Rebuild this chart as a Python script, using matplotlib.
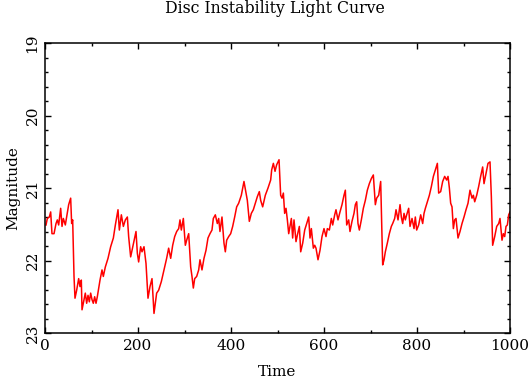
import matplotlib
matplotlib.use("Agg")
import matplotlib.pyplot as plt
from matplotlib.ticker import MultipleLocator

# Light curve (time, magnitude)
time = [
    2.2, 5, 9.3, 12.2, 15, 19.4, 23.7, 26.5, 29.4, 33.7, 36.6, 39.4, 43.7,
    46.6, 50.9, 55.2, 57.3, 59.5, 62.4, 64.5, 68.1, 72.4, 75.3, 78.1, 79.6,
    83.9, 86.7, 89.6, 92.5, 95.3, 98.2, 101.1, 103.9, 106.8, 109.7, 112.5,
    118.3, 122.6, 125.4, 129.7, 135.5, 141.2, 147, 151.3, 157, 159.9, 164.2,
    168.5, 172.8, 177.1, 179.9, 184.2, 187.1, 191.4, 195.7, 198.6, 201.4,
    205.7, 208.6, 212.9, 217.2, 221.5, 225.8, 230.1, 234.4, 240.1, 244.4,
    250.2, 255.9, 261.6, 265.9, 270.3, 274.6, 278.9, 283.2, 287.5, 290.3,
    293.2, 297.5, 301.8, 304.7, 309, 313.3, 316.1, 319, 321.9, 326.2, 330.5,
    333.3, 337.6, 341.9, 346.2, 350.5, 354.8, 359.1, 362, 366.3, 370.6,
    373.5, 376.3, 380.6, 384.9, 387.8, 390.7, 395, 399.3, 403.6, 407.9,
    412.2, 416.5, 422.2, 427.9, 432.3, 435.1, 439.4, 443.7, 448, 452.3,
    456.6, 460.9, 463.8, 468.1, 473.8, 479.6, 485.3,
    487.5, 491.1, 494.7, 498.2, 503.3, 506.8, 509.7, 512.6, 515.4, 518.3,
    521.2, 524.1, 526.9, 529.8, 532.6, 535.5, 539.8, 542.7, 547, 549.9,
    554.2, 558.5, 562.8, 567.1, 569.9, 572.8, 577.1, 580, 582.8, 587.1,
    591.4, 595.7, 600, 604.3, 607.2, 611.5, 615.8, 618.7, 623, 625.8, 630.1,
    634.4, 638.7, 643, 645.9, 648.8, 653.1, 655.9, 660.2, 664.5, 667.4,
    670.3, 673.1, 676, 680.3, 684.6, 688.9, 693.2, 697.5, 701.8, 706.1,
    707.6, 710.4, 713.3, 717.6, 721.9, 726.2, 729.1, 731.9, 736.2, 740.5,
    744.8, 747.7, 752, 754.9, 759.2, 763.5, 766.3, 769.2, 772.1, 774.9,
    777.8, 782.1, 785, 789.3, 793.6, 796.4, 799.3, 803.6, 807.9, 812.2,
    815.1, 818, 822.3, 826.6, 830.9, 835.2, 839.5, 843.8, 846.6, 850.9,
    855.2, 859.5, 863.8, 866.7, 869.6, 872.4, 875.3, 878.2, 881, 883.9,
    888.2, 892.5, 896.8, 901.1, 905.4, 909.7, 914, 918.3, 921.2, 924.1,
    928.4, 932.6, 936.9, 941.2, 944.1, 948.4, 952.7, 957, 959.9, 962.7,
    967.1, 971.4, 975.7, 978.5, 982.8, 985.7, 988.6, 991.4, 994.3, 997.2, 1000,
]
magnitude = [
    21.51, 21.42, 21.40, 21.33, 21.63, 21.63, 21.49, 21.44, 21.51, 21.28,
    21.53, 21.42, 21.51, 21.40, 21.23, 21.14, 21.49, 21.44, 22.22, 22.52,
    22.41, 22.25, 22.36, 22.27, 22.68, 22.54, 22.45, 22.59, 22.48, 22.57,
    22.45, 22.54, 22.59, 22.50, 22.59, 22.50, 22.27, 22.13, 22.22, 22.09,
    21.97, 21.81, 21.69, 21.51, 21.30, 21.58, 21.37, 21.53, 21.44, 21.40,
    21.67, 21.95, 21.86, 21.72, 21.60, 21.90, 22.02, 21.81, 21.88, 21.81,
    22.04, 22.52, 22.36, 22.25, 22.73, 22.45, 22.41, 22.29, 22.13, 21.97,
    21.83, 21.97, 21.79, 21.67, 21.60, 21.56, 21.44, 21.58, 21.42, 21.79,
    21.72, 21.63, 22.09, 22.22, 22.38, 22.25, 22.22, 22.13, 21.99, 22.13,
    21.97, 21.86, 21.69, 21.63, 21.58, 21.42, 21.37, 21.49, 21.42, 21.60,
    21.40, 21.76, 21.88, 21.72, 21.67, 21.63, 21.53, 21.40, 21.26, 21.21,
    21.10, 20.91, 21.07, 21.17, 21.46, 21.35, 21.30, 21.21, 21.12, 21.05,
    21.17, 21.26, 21.10, 21.00, 20.89,
    20.75, 20.66, 20.77, 20.68, 20.61, 21.10, 21.14, 21.07, 21.35, 21.28,
    21.44, 21.63, 21.53, 21.42, 21.69, 21.44, 21.74, 21.65, 21.53, 21.88,
    21.76, 21.58, 21.49, 21.40, 21.69, 21.56, 21.83, 21.79, 21.83, 21.99,
    21.86, 21.67, 21.56, 21.67, 21.56, 21.58, 21.42, 21.51, 21.37, 21.30,
    21.44, 21.33, 21.23, 21.10, 21.03, 21.51, 21.44, 21.60, 21.46, 21.35,
    21.23, 21.19, 21.49, 21.58, 21.44, 21.28, 21.17, 21.03, 20.94, 20.87,
    20.82, 20.96, 21.23, 21.14, 21.10, 20.91, 22.06, 21.99, 21.88, 21.76,
    21.63, 21.53, 21.49, 21.42, 21.30, 21.44, 21.23, 21.40, 21.49, 21.35,
    21.44, 21.37, 21.28, 21.53, 21.42, 21.56, 21.40, 21.58, 21.51, 21.37,
    21.49, 21.35, 21.28, 21.19, 21.10, 20.98, 20.84, 20.75, 20.66, 21.07,
    21.05, 20.91, 20.84, 20.89, 20.84, 21.00, 21.21, 21.26, 21.56, 21.44,
    21.42, 21.69, 21.60, 21.49, 21.40, 21.30, 21.21, 21.03, 21.14, 21.10,
    21.19, 21.10, 20.98, 20.84, 20.71, 20.94, 20.80, 20.66, 20.64, 21.12,
    21.79, 21.67, 21.53, 21.49, 21.42, 21.72, 21.63, 21.67, 21.53, 21.51,
    21.37, 21.33,
]

plt.rcParams["font.family"] = "DejaVu Serif"

fig = plt.figure(figsize=(5.29, 3.84), dpi=100)
ax = fig.add_axes([45 / 529, 1 - 333 / 384, 465 / 529, 290 / 384])

ax.plot(time, magnitude, color="#ff0000", linewidth=1.1)

# magnitudes: brighter at the top
ax.set_xlim(0, 1000)
ax.set_ylim(23, 19)

ax.xaxis.set_major_locator(MultipleLocator(200))
ax.xaxis.set_minor_locator(MultipleLocator(100))
ax.yaxis.set_major_locator(MultipleLocator(1))
ax.yaxis.set_minor_locator(MultipleLocator(0.2))

ax.tick_params(which="both", direction="in", top=True, right=True,
               width=1, labelsize=11)
ax.tick_params(which="major", length=4.5, pad=4)
ax.tick_params(which="minor", length=2.2)
for lab in ax.get_yticklabels():
    lab.set_rotation(90)
    lab.set_va("center")

for s in ax.spines.values():
    s.set_linewidth(1.1)

fig.text(0.52, 0.977, "Disc Instability Light Curve", ha="center",
         va="center", fontsize=11.3)
ax.set_xlabel("Time", fontsize=11, labelpad=9)
ax.set_ylabel("Magnitude", fontsize=11, labelpad=4)

fig.savefig("out.png", dpi=100)
